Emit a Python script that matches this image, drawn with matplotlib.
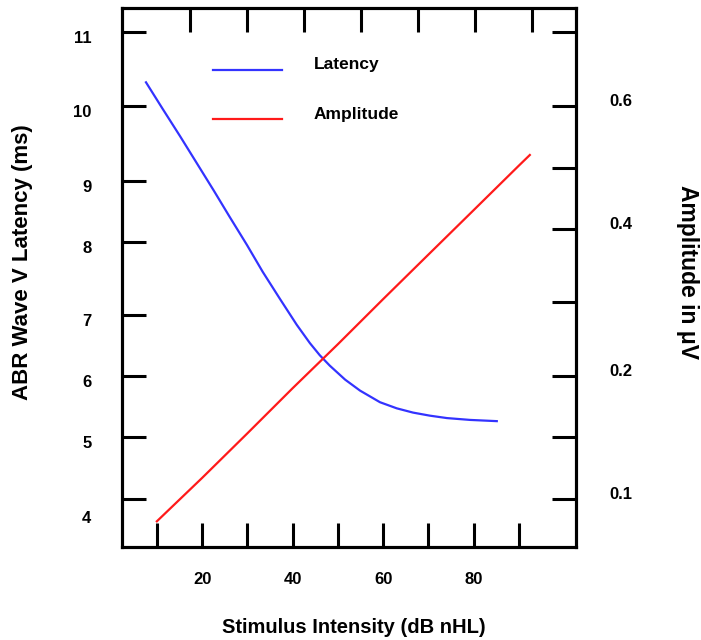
import numpy as np
import matplotlib.pyplot as plt
from matplotlib.transforms import ScaledTranslation

plt.rcParams['font.family'] = ['Liberation Sans', 'DejaVu Sans']
plt.rcParams['font.weight'] = 'bold'

# latency curve
lat_intensity = [7.6, 11.3, 15.1, 18.8, 22.6, 26.1, 29.9, 33.4, 37.2, 40.9, 43.8,
                 46.0, 48.2, 51.6, 54.9, 59.3, 63.0, 66.6, 70.3, 74.1, 79.2, 85.1]
latency = [10.32, 9.96, 9.60, 9.24, 8.84, 8.41, 7.96, 7.59, 7.22, 6.84, 6.54,
           6.34, 6.17, 5.94, 5.76, 5.57, 5.47, 5.40, 5.35, 5.31, 5.28, 5.26]

# amplitude line
amp_intensity = [10, 20, 30, 40, 50, 60, 70, 80, 90, 92.4]
amplitude = [0.082, 0.117, 0.153, 0.190, 0.243, 0.304, 0.365, 0.431, 0.504, 0.521]

x_ticks = [10, 20, 30, 40, 50, 60, 70, 80, 90]
x_labels = ['', '20', '', '40', '', '60', '', '80', '']

# the printed axes are not evenly spaced: tick value -> height above the x axis (px)
lat_knots = [3, 4, 5, 6, 7, 8, 9, 10, 11, 12]
lat_knot_pos = [-14, 48, 110, 171, 232, 305, 366, 441, 515, 589]
lat_ticks = [4, 5, 6, 7, 8, 9, 10, 11]

amp_knots = [0.05, 0.1, 0.15, 0.2, 0.3, 0.4, 0.5, 0.6, 0.7, 0.8]
amp_knot_pos = [-14, 48, 110, 171, 245, 318, 379, 441, 515, 589]
amp_ticks = [0.1, 0.15, 0.2, 0.3, 0.4, 0.5, 0.6, 0.7]
amp_labels = ['0.1', '', '0.2', '', '0.4', '', '0.6', '']

AX_H = 539


def piecewise(knots, pos):
    fwd = lambda v: np.interp(v, knots, pos)
    inv = lambda p: np.interp(p, pos, knots)
    return fwd, inv


lat_f, lat_i = piecewise(lat_knots, lat_knot_pos)
amp_f, amp_i = piecewise(amp_knots, amp_knot_pos)

fig = plt.figure(figsize=(7.01, 6.40), dpi=100)
ax = fig.add_axes([122 / 701, 1 - 547 / 640, 454 / 701, 539 / 640])
ax_top = ax.twiny()
ax2 = ax.twinx()

tick_kw = dict(direction='in', length=17, width=2.2, labelsize=12)
lw = 2.2

ax.set_xlim(2.3, 102.6)
ax.set_xticks(x_ticks, x_labels)
ax.set_yscale('function', functions=(lat_f, lat_i))
ax.set_ylim(lat_i(0), lat_i(AX_H))
ax.set_yticks(lat_ticks, [str(t) for t in lat_ticks])
ax.tick_params(axis='both', top=False, right=False, **tick_kw)
ax.tick_params(axis='x', pad=18)
ax.tick_params(axis='y', pad=22)

# unlabelled ticks along the top edge
ax_top.set_xlim(-0.193, 7.77)
ax_top.set_xticks(range(1, 8), [''] * 7)
ax_top.tick_params(axis='x', **tick_kw)

ax2.set_yscale('function', functions=(amp_f, amp_i))
ax2.set_ylim(amp_i(0), amp_i(AX_H))
ax2.set_yticks(amp_ticks, amp_labels)
ax2.tick_params(axis='y', pad=24, **tick_kw)

for a in (ax, ax_top, ax2):
    for s in a.spines.values():
        s.set_linewidth(lw)

# labels sit a little off their ticks in the original
for t in ax.get_yticklabels():
    dy = -18 if t.get_text() == '4' else -5
    t.set_transform(t.get_transform() + ScaledTranslation(0, dy / 100, fig.dpi_scale_trans))
for t in ax2.get_yticklabels():
    t.set_transform(t.get_transform() + ScaledTranslation(0, 6 / 100, fig.dpi_scale_trans))

l1, = ax.plot(lat_intensity, latency, color='#3333ff', lw=1.6, label='Latency')
l2, = ax2.plot(amp_intensity, amplitude, color='#ff1a1a', lw=1.6, label='Amplitude')

leg = ax2.legend(handles=[l1, l2], loc='upper left', bbox_to_anchor=(0.2, 0.909),
                 frameon=False, fontsize=12.5, handlelength=4.0, handletextpad=1.8,
                 labelspacing=1.97, borderpad=0, borderaxespad=0)
for ln in leg.get_lines():
    ln.set_ydata(np.asarray(ln.get_ydata()) - 5)

ax.set_xlabel('Stimulus Intensity (dB nHL)', fontsize=14.5, fontweight='bold')
ax.xaxis.set_label_coords(0.511, -0.132)
ax.set_ylabel('ABR Wave V Latency (ms)', fontsize=16, fontweight='bold')
ax.yaxis.set_label_coords(-0.196, 0.529)
ax2.set_ylabel('Amplitude in μV', fontsize=16.5, fontweight='bold', rotation=270)
ax2.yaxis.set_label_coords(1.27, 0.51)

fig.savefig('out.png', dpi=100)
